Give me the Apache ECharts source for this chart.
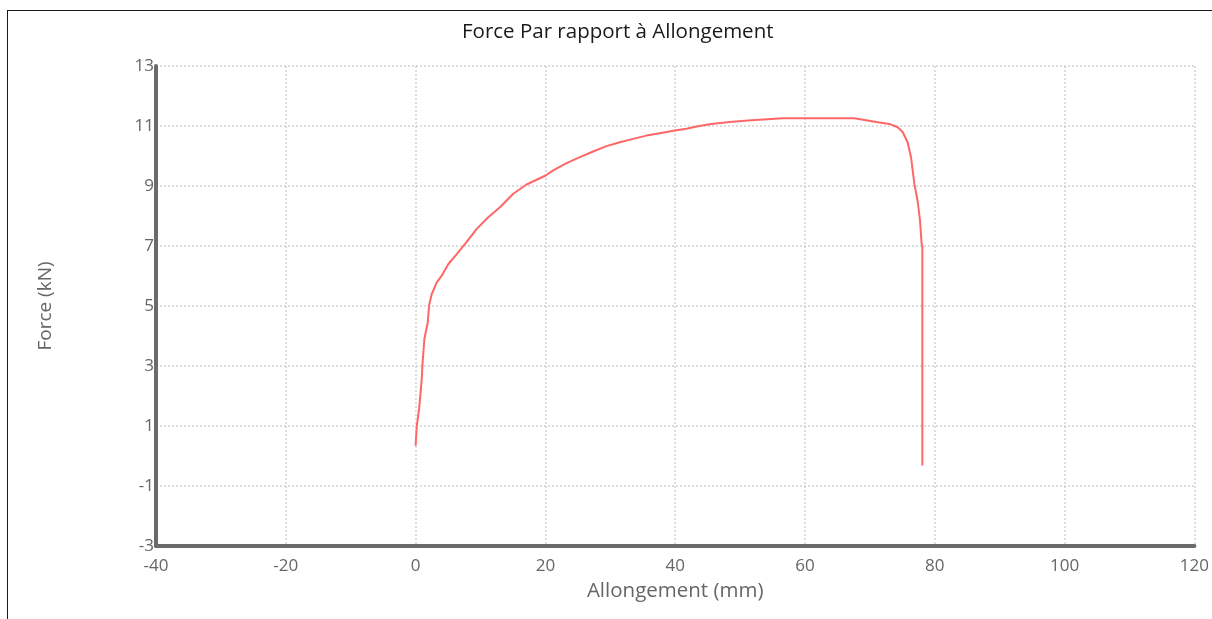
<!DOCTYPE html>
<html>
<head>
<meta charset="utf-8">
<script src="https://cdn.jsdelivr.net/npm/echarts@6/dist/echarts.min.js"></script>
<style>
  html, body { margin: 0; padding: 0; background: #fff; overflow: hidden; }
  #frame { position: absolute; left: 7px; top: 10px; width: 1300px; height: 700px; border-left: 1.5px solid #1a1a1a; border-top: 1.5px solid #1a1a1a; }
  #chart { position: absolute; left: 0; top: 0; width: 1212px; height: 619px; }
</style>
</head>
<body>
<div id="frame"></div>
<div id="chart"></div>
<script>
const titleText = "Force Par rapport à Allongement";
const xAxisName = "Allongement (mm)";
const yAxisName = "Force (kN)";

const elongation = [0, 0.18, 0.54, 0.95, 1.05, 1.35, 1.88, 2.08, 2.49, 3.26, 4.03, 5.05, 6.34, 7.62, 9.42, 11.15, 13.0, 15.05, 17.1, 20.03, 21.2, 23.26, 25.31, 27.35, 29.42, 31.46, 33.51, 35.57, 37.62, 39.92, 41.72, 43.5, 45.57, 48.38, 51.2, 56.58, 67.62, 67.88, 70.95, 73.0, 74.28, 75.05, 75.82, 76.34, 76.85, 77.35, 77.72, 77.97, 78.08, 78.08];
const force = [0.34, 1.0, 1.57, 2.57, 3.03, 3.9, 4.46, 5.03, 5.4, 5.79, 6.01, 6.4, 6.73, 7.07, 7.57, 7.95, 8.29, 8.74, 9.05, 9.35, 9.52, 9.76, 9.96, 10.15, 10.33, 10.46, 10.57, 10.68, 10.76, 10.85, 10.91, 10.99, 11.07, 11.13, 11.18, 11.26, 11.26, 11.2, 11.13, 11.07, 10.96, 10.8, 10.45, 9.95, 9.07, 8.5, 7.85, 7.07, 7.0, -0.32];

const points = elongation.map((x, i) => [x, force[i]]);

const chart = echarts.init(document.getElementById('chart'), null, { renderer: 'canvas' });
const labelFont = "'Open Sans', 'Noto Sans', sans-serif";
chart.setOption({
  animation: false,
  title: {
    text: titleText,
    left: 457,
    top: 17,
    textStyle: { fontFamily: labelFont, fontSize: 20.5, fontWeight: 'normal', color: '#1a1a1a' }
  },
  grid: { left: 156, right: 16, top: 66, bottom: 73, containLabel: false },
  xAxis: {
    type: 'value',
    min: -40, max: 120, interval: 20,
    name: xAxisName,
    nameLocation: 'middle',
    nameGap: 35,
    nameTextStyle: { fontFamily: labelFont, fontSize: 20.5, color: '#666' },
    axisLine: { show: true, onZero: false, lineStyle: { color: '#6b6b6b', width: 4 } },
    axisTick: { show: false },
    axisLabel: { fontFamily: labelFont, fontSize: 17, color: '#666', margin: 12 },
    splitLine: { show: true, lineStyle: { color: '#d2d2d2', type: [2, 2], width: 1.5 } }
  },
  yAxis: {
    type: 'value',
    min: -3, max: 13, interval: 2,
    name: yAxisName,
    nameLocation: 'middle',
    nameGap: 101,
    nameRotate: 90,
    nameTextStyle: { fontFamily: labelFont, fontSize: 19, color: '#666' },
    axisLine: { show: true, onZero: false, lineStyle: { color: '#6b6b6b', width: 4 } },
    axisTick: { show: false },
    axisLabel: { fontFamily: labelFont, fontSize: 17, color: '#666', margin: 2 },
    splitLine: { show: true, lineStyle: { color: '#d2d2d2', type: [2, 2], width: 1.5 } }
  },
  series: [{
    type: 'line',
    data: points,
    showSymbol: false,
    smooth: false,
    lineStyle: { color: '#ff6666', width: 2 },
    z: 3
  }]
});
</script>
</body>
</html>
